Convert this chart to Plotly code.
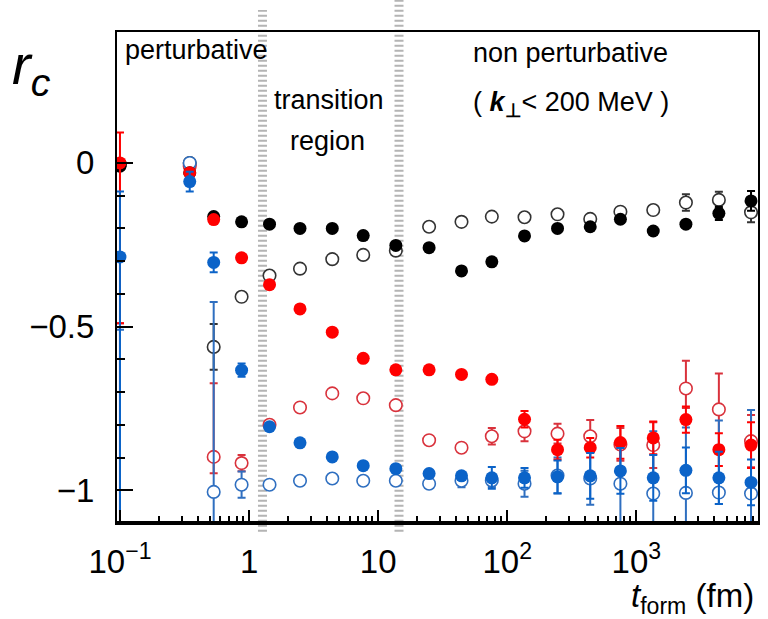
import plotly.graph_objects as go

# formation time bins (fm)
t_form = [0.1, 0.347, 0.532, 0.875, 1.44, 2.48, 4.41, 7.66, 13.7, 24.8, 44.2, 75.9,
          136, 245, 439, 752, 1351, 2419, 4354, 7727]

N = None  # error hidden by the marker

# black filled
bf_y = [-0.01, -0.03, -0.164, -0.18, -0.187, -0.2, -0.2, -0.222, -0.252, -0.259, -0.33, -0.302,
        -0.223, -0.2, -0.195, -0.172, -0.208, -0.187, -0.154, -0.116]
bf_up = [N, N, N, N, N, N, N, N, N, N, N, N, N, N, N, N, N, N, 0.02, 0.03]
bf_dn = bf_up
# black open
bo_y = [-0.005, 0.0, -0.562, -0.409, -0.344, -0.323, -0.294, -0.281, -0.268, -0.195, -0.18, -0.164,
        -0.166, -0.157, -0.171, -0.149, -0.144, -0.121, -0.113, -0.151]
bo_up = [N, N, 0.07, N, N, N, N, N, N, N, N, N, N, N, N, N, N, 0.025, 0.025, 0.03]
bo_dn = bo_up
# red filled
rf_y = [0.0, -0.03, -0.173, -0.29, -0.372, -0.446, -0.517, -0.597, -0.632, -0.632, -0.646, -0.661,
        -0.783, -0.876, -0.87, -0.854, -0.84, -0.784, -0.876, -0.862]
rf_up = [0.093, N, N, N, N, N, N, N, N, N, N, N,
         0.025, 0.03, 0.03, 0.05, 0.05, 0.04, 0.05, 0.07]
rf_dn = [0.49, N, N, N, N, N, N, N, N, N, N, N,
         0.025, 0.03, 0.03, 0.05, 0.05, 0.04, 0.05, 0.07]
# red open
ro_y = [-1.25, -0.01, -0.898, -0.917, -0.80, -0.747, -0.704, -0.719, -0.74, -0.847, -0.87, -0.835,
        -0.82, -0.827, -0.835, -0.86, -0.862, -0.689, -0.753, -0.85]
ro_up = [0.76, N, 0.225, 0.025, N, N, N, N, N, N, N, 0.025,
         0.03, 0.03, 0.05, 0.05, 0.07, 0.085, 0.11, 0.08]
ro_dn = [0.1, N, 0.05, 0.025, N, N, N, N, N, N, N, 0.025,
         0.03, 0.03, 0.05, 0.05, 0.07, 0.06, 0.11, 0.08]
# blue filled
uf_y = [-0.287, -0.057, -0.304, -0.633, -0.806, -0.855, -0.898, -0.925, -0.934, -0.949, -0.956, -0.962,
        -0.962, -0.959, -0.956, -0.941, -0.962, -0.939, -0.962, -0.976]
uf_up = [0.2, 0.03, 0.03, 0.02, N, N, N, N, N, N, N, 0.033,
         0.03, 0.05, 0.07, 0.07, 0.07, 0.07, 0.08, 0.07]
uf_dn = [0.9, 0.03, 0.03, 0.02, N, N, N, N, N, N, N, 0.033,
         0.03, 0.05, 0.07, 0.07, 0.07, 0.07, 0.08, 0.07]
# blue open
uo_y = [-1.3, 0.0, -1.005, -0.983, -0.983, -0.971, -0.964, -0.971, -0.971, -0.98, -0.971, -0.97,
        -0.98, -0.955, -0.964, -0.98, -1.01, -1.008, -1.007, -1.01]
uo_up = [0.79, N, 0.58, 0.04, N, N, N, N, N, N, 0.02, 0.02,
         0.04, 0.055, 0.08, 0.11, 0.19, 0.2, 0.22, 0.255]
uo_dn = [0.1, N, 0.5, 0.04, N, N, N, N, N, N, 0.02, 0.02,
         0.04, 0.055, 0.08, 0.2, 0.2, 0.2, 0.035, 0.2]

# region boundaries (fm)
boundaries = [1.27, 14.5]

x_ticks = [0.1, 1, 10, 100, 1000]
x_ticktext = ["10<sup>−1</sup>", "1", "10", "10<sup>2</sup>", "10<sup>3</sup>"]
y_ticks = [-1, -0.5, 0]
y_ticktext = ["−1", "−0.5", "0"]
y_minor = [-0.1, -0.2, -0.3, -0.4, -0.6, -0.7, -0.8, -0.9]

BLACK = "#000000"
RED = "#ff0000"
BLUE = "#0b63c8"
FONT = "Liberation Sans, Arial, sans-serif"

fig = go.Figure()

def add(y, up, dn, color, open_):
    fig.add_trace(go.Scatter(
        x=t_form, y=y, mode="markers",
        marker=dict(
            symbol="circle",
            size=13 if not open_ else 12.5,
            color="white" if open_ else color,
            line=dict(width=1.6 if open_ else 0, color=color),
        ),
        error_y=dict(type="data", symmetric=False, array=up, arrayminus=dn,
                     color=color, thickness=2, width=4),
        showlegend=False,
    ))

add(bo_y, bo_up, bo_dn, "#333333", True)
add(ro_y, ro_up, ro_dn, "#d9323c", True)
add(uo_y, uo_up, uo_dn, "#2f6fc0", True)
add(bf_y, bf_up, bf_dn, BLACK, False)
add(rf_y, rf_up, rf_dn, RED, False)
add(uf_y, uf_up, uf_dn, BLUE, False)

shapes = []
tops = [1.045, 1.065]
for b, top in zip(boundaries, tops):
    shapes.append(dict(type="line", xref="x", yref="paper", x0=b, x1=b, y0=-0.018, y1=top,
                       line=dict(color="#b4b4b4", width=9, dash="2px,3px"), layer="below"))
# thick bottom axis
shapes.append(dict(type="line", xref="paper", yref="paper", x0=0, x1=1, y0=0, y1=0,
                   line=dict(color="black", width=4), layer="above"))

minor_vals = []
for d in [0.1, 1, 10, 100, 1000]:
    for k in range(2, 10):
        minor_vals.append(k * d)

fig.update_layout(
    width=768, height=619,
    margin=dict(l=117, r=8, t=32, b=96),
    paper_bgcolor="white", plot_bgcolor="white",
    font=dict(family=FONT, color="black"),
    shapes=shapes,
    xaxis=dict(
        type="log", range=[-1.023, 3.942],
        showgrid=False, zeroline=False,
        showline=True, linecolor="black", linewidth=2, mirror=True,
        ticks="inside", ticklen=13, tickwidth=2, tickcolor="black",
        tickvals=x_ticks, ticktext=x_ticktext,
        tickfont=dict(size=33, family=FONT),
        ticklabelstandoff=8,
        minor=dict(tickmode="array", tickvals=minor_vals, ticks="inside",
                   ticklen=7, tickwidth=2, tickcolor="black", showgrid=False),
    ),
    yaxis=dict(
        range=[-1.1, 0.4],
        showgrid=False, zeroline=False,
        showline=True, linecolor="black", linewidth=2, mirror=True,
        ticks="inside", ticklen=16, tickwidth=2, tickcolor="black",
        tickvals=y_ticks, ticktext=y_ticktext,
        tickfont=dict(size=33, family=FONT),
        ticklabelstandoff=14,
        minor=dict(tickmode="array", tickvals=y_minor, ticks="inside", ticklen=8, tickwidth=2,
                   tickcolor="black", showgrid=False),
    ),
)

ann_font = dict(size=27, family=FONT, color="black")
annotations = [
    dict(text="perturbative", x=0.0093, y=0.963, xanchor="left", yanchor="middle"),
    dict(text="transition", x=0.331, y=0.8615, xanchor="center", yanchor="middle"),
    dict(text="region", x=0.328, y=0.778, xanchor="center", yanchor="middle"),
    dict(text="non perturbative", x=0.7076, y=0.957, xanchor="center", yanchor="middle"),
    dict(text="( <b><i>k</i></b><sub><b>⊥</b></sub>&lt; 200 MeV )", x=0.7076, y=0.853,
         xanchor="center", yanchor="middle"),
]
for a in annotations:
    fig.add_annotation(xref="paper", yref="paper", showarrow=False, font=ann_font, **a)

fig.add_annotation(xref="paper", yref="paper", x=-0.133, y=0.925, showarrow=False,
                   text="<i>r</i><sub><i>c</i></sub>", font=dict(size=56, family=FONT, color="black"),
                   xanchor="center", yanchor="middle")
fig.add_annotation(xref="paper", yref="paper", x=0.997, y=-0.152, showarrow=False,
                   text="<i>t</i><sub>form</sub> (fm)", font=dict(size=33, family=FONT, color="black"),
                   xanchor="right", yanchor="middle")

fig.write_html("out.html")
